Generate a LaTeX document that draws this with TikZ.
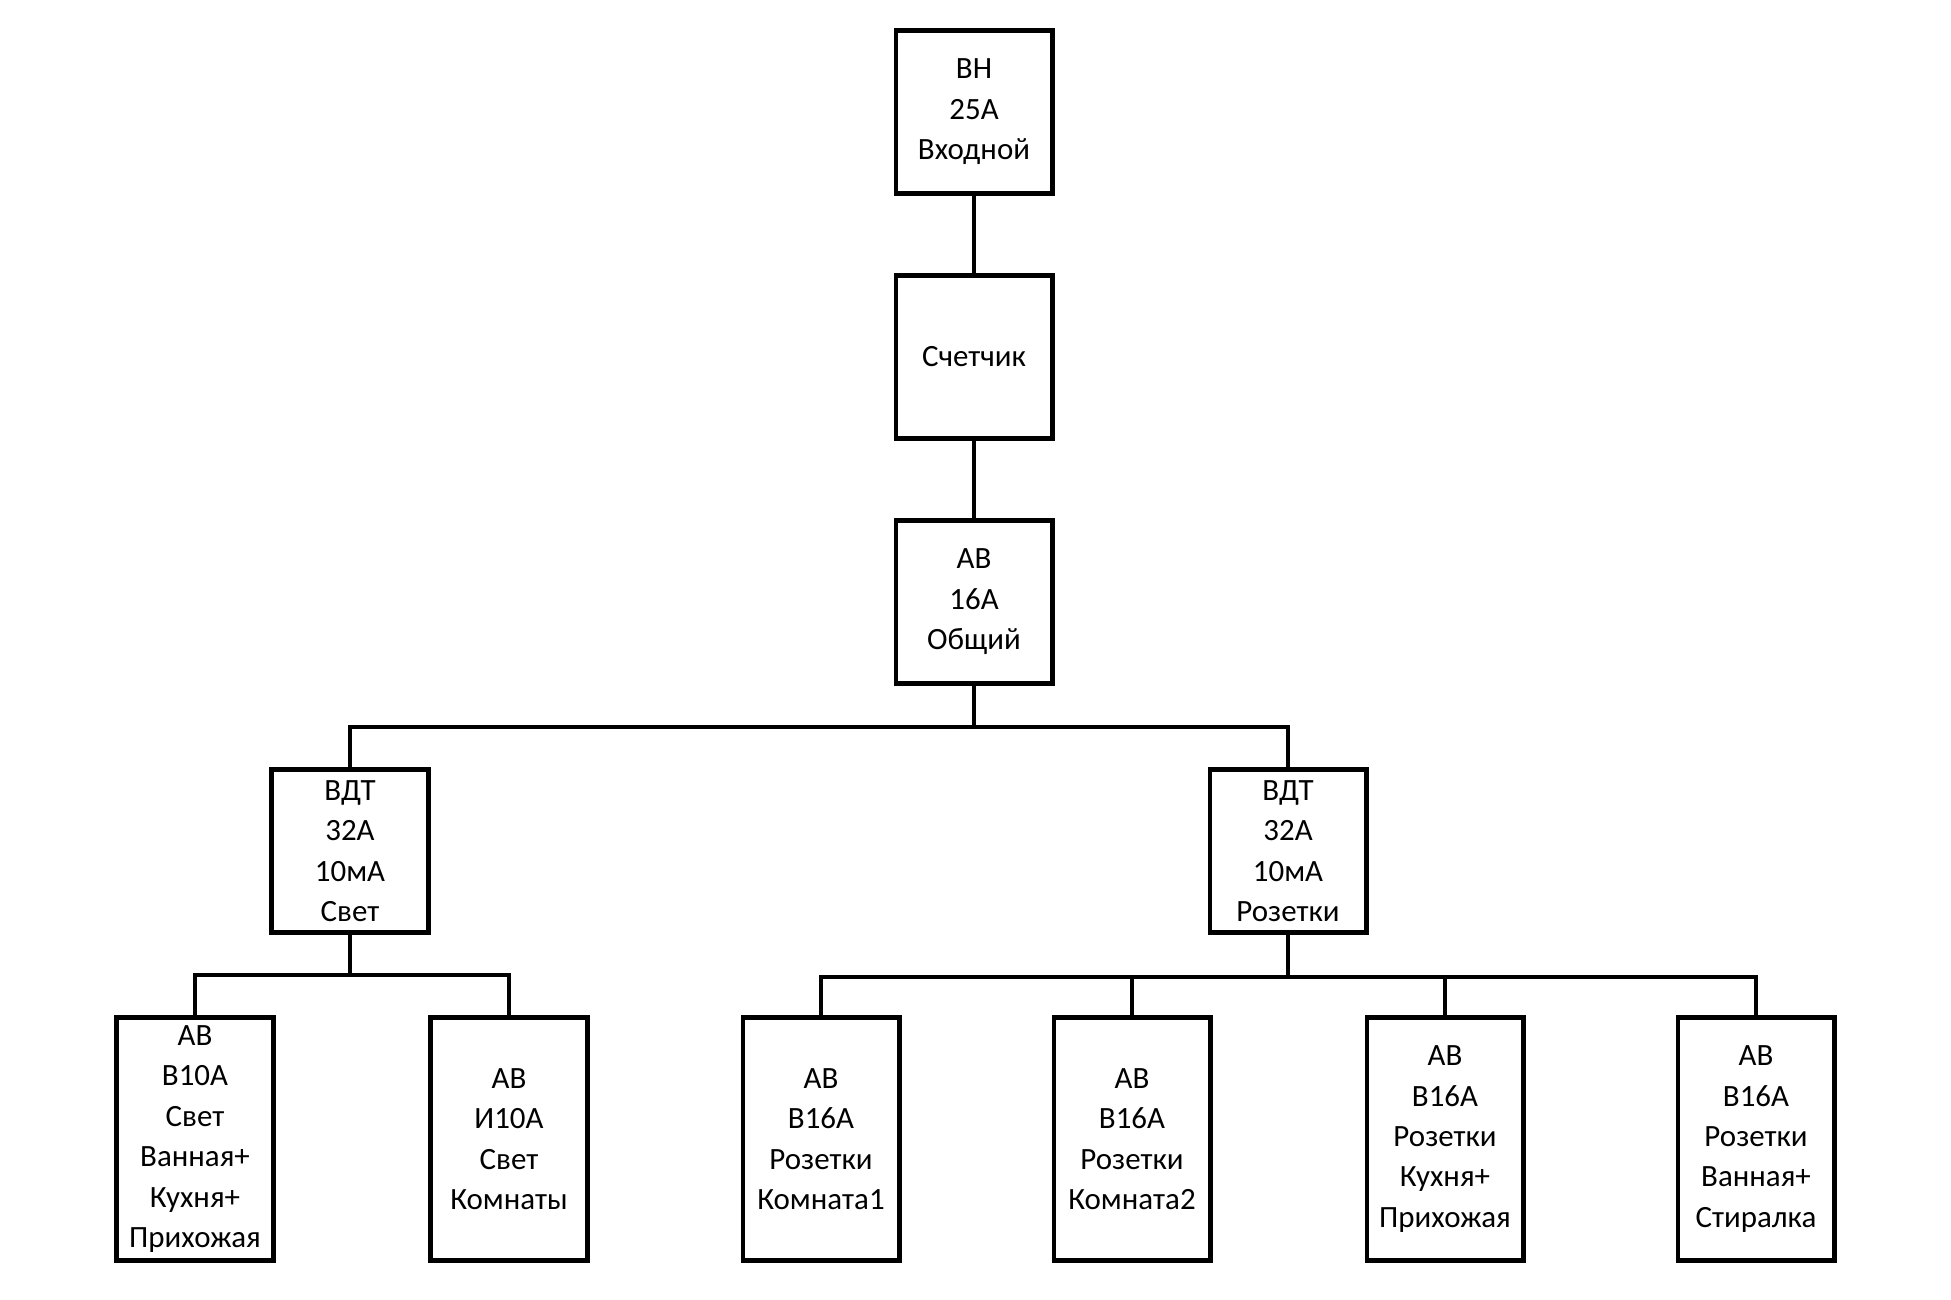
\documentclass[tikz,border=0pt]{standalone}
\usepackage{fontspec}
\setmainfont{Carlito}
\usepackage{tikz}

\begin{document}
\begin{tikzpicture}[x=0.01cm, y=-0.01cm,
	blk/.style={draw, line width=1.4pt, align=center, inner sep=0pt,
		minimum width=1.56cm, font=\fontsize{8.8}{11.5}\selectfont},
	top/.style={blk, minimum height=1.63cm},
	leaf/.style={blk, minimum height=2.43cm},
	every path/.style={line width=1.4pt}]
	\useasboundingbox (0,0) rectangle (1951,1300);
	% feeder
	\node[top] (vn)  at (974,112) {ВН\\25А\\Входной};
	\node[top] (sch) at (974,357) {Счетчик};
	\node[top] (ab)  at (974,602) {АВ\\16А\\Общий};
	% RCDs
	\node[top] (vdtL) at (350,851)  {ВДТ\\32А\\10мА\\Свет};
	\node[top] (vdtR) at (1288,851) {ВДТ\\32А\\10мА\\Розетки};
	% breakers
	\node[leaf] (b1) at (195,1139)  {АВ\\В10А\\Свет\\Ванная+\\Кухня+\\Прихожая};
	\node[leaf] (b2) at (509,1139)  {АВ\\И10А\\Свет\\Комнаты};
	\node[leaf] (b3) at (821,1139)  {АВ\\В16А\\Розетки\\Комната1};
	\node[leaf] (b4) at (1132,1139) {АВ\\В16А\\Розетки\\Комната2};
	\node[leaf] (b5) at (1445,1139) {АВ\\В16А\\Розетки\\Кухня+\\Прихожая};
	\node[leaf] (b6) at (1756,1139) {АВ\\В16А\\Розетки\\Ванная+\\Стиралка};
	\coordinate (busA) at (974,727);
	\coordinate (busL) at (350,975);
	\coordinate (busR) at (1288,977);

	\draw (vn) -- (sch) -- (ab) -- (busA);
	\draw (vdtL) -- (busA -| vdtL.north) -- (busA -| vdtR.north) -- (vdtR);
	\draw (vdtL) -- (busL);
	\draw (b1) |- (busL) -| (b2);
	\draw (vdtR) -- (busR);
	\draw (b3) |- (busR) -| (b6);
	\path
	(busR -| b4) edge (b4)
	(busR -| b5) edge (b5)
	;
\end{tikzpicture}
\end{document}
